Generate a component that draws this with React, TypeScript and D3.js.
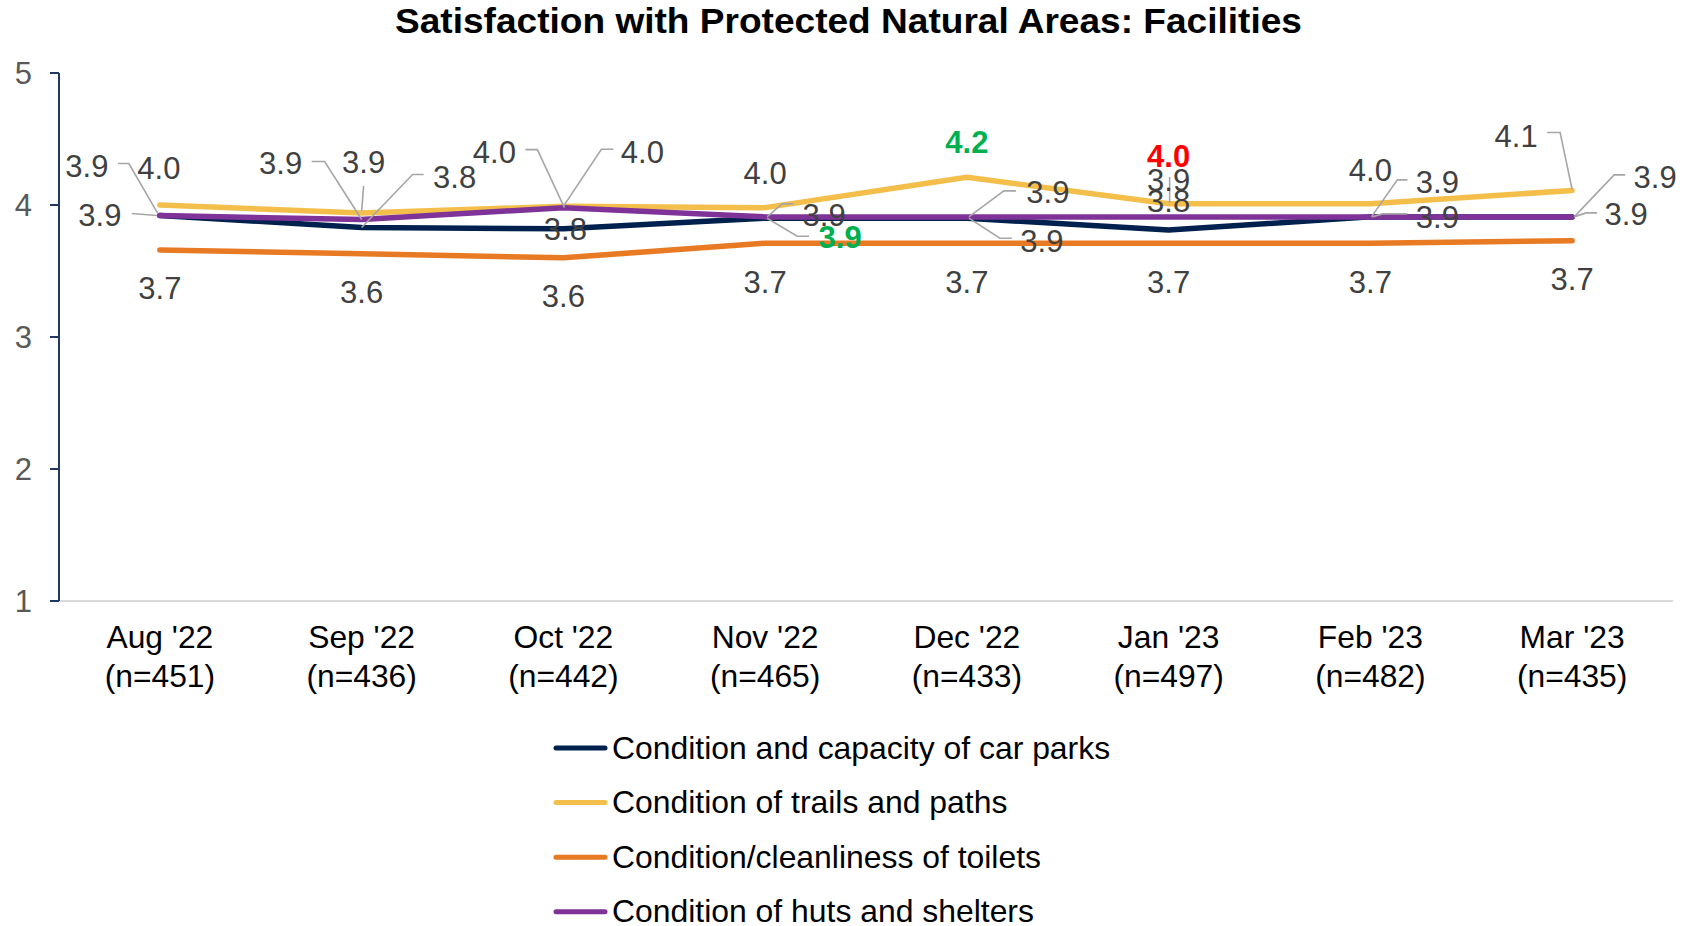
import React from "react";
import * as d3 from "d3";

// ---------- data ----------
const months = ["Aug '22", "Sep '22", "Oct '22", "Nov '22", "Dec '22", "Jan '23", "Feb '23", "Mar '23"];
const sampleSizes = ["(n=451)", "(n=436)", "(n=442)", "(n=465)", "(n=433)", "(n=497)", "(n=482)", "(n=435)"];
const carParks = [3.92, 3.83, 3.82, 3.90, 3.90, 3.81, 3.91, 3.91];
const trails = [4.00, 3.94, 3.99, 3.98, 4.21, 4.01, 4.01, 4.11];
const toilets = [3.66, 3.63, 3.60, 3.71, 3.71, 3.71, 3.71, 3.73];
const huts = [3.92, 3.89, 3.98, 3.91, 3.91, 3.91, 3.91, 3.91];
const yTicks = [1, 2, 3, 4, 5];
const seriesNames = [
  "Condition and capacity of car parks",
  "Condition of trails and paths",
  "Condition/cleanliness of toilets",
  "Condition of huts and shelters",
];
// significance highlighting: [seriesIndex, pointIndex, colour]
const highlights: [number, number, string][] = [
  [0, 3, "#00B050"],
  [1, 4, "#00B050"],
  [1, 5, "#FF0000"],
];

// ---------- styling / layout ----------
const W = 1682, H = 926;
const colors = ["#00204E", "#F3BF4A", "#E97A24", "#7F3398"];
const FONT = "'Liberation Sans', Arial, Helvetica, sans-serif";
const plot = { left: 59, right: 1673, top: 73, bottom: 601 };

type Lbl = { dx: number; dy: number; leader?: [number, number][] };
// label offsets relative to each data point (text centre), leader polylines relative to point
const labelLayout: Lbl[][] = [
  // car parks
  [
    { dx: -60, dy: -1, leader: [[-28, -2], [-3, 0]] },
    { dx: 93, dy: -51, leader: [[62, -53], [51, -53], [0, 0]] },
    { dx: 2, dy: 0 },
    { dx: 75, dy: 19, leader: [[44, 18], [32, 18], [2, 0]] },
    { dx: 75, dy: 23, leader: [[45, 20], [33, 20], [2, 0]] },
    { dx: 0, dy: -29 },
    { dx: 67, dy: 0, leader: [[37, -3], [12, -3], [2, 0]] },
    { dx: 54, dy: -3, leader: [[25, -4], [14, -4], [2, 0]] },
  ],
  // trails
  [
    { dx: -1, dy: -37 },
    { dx: 2, dy: -51, leader: [[2, -27], [0, -2]] },
    { dx: 79, dy: -54, leader: [[50, -57], [38, -57], [0, 0]] },
    { dx: 0, dy: -35 },
    { dx: 0, dy: -35 },
    { dx: 0, dy: -48 },
    { dx: 0, dy: -34 },
    { dx: -56, dy: -55, leader: [[-25, -58], [-12, -58], [0, -1]] },
  ],
  // toilets
  [
    { dx: 0, dy: 38 }, { dx: 0, dy: 38 }, { dx: 0, dy: 38 }, { dx: 0, dy: 39 },
    { dx: 0, dy: 39 }, { dx: 0, dy: 39 }, { dx: 0, dy: 39 }, { dx: 0, dy: 38 },
  ],
  // huts
  [
    { dx: -73, dy: -50, leader: [[-42, -52], [-31, -52], [-2, -2]] },
    { dx: -81, dy: -57, leader: [[-50, -58], [-37, -58], [0, 0]] },
    { dx: -69, dy: -56, leader: [[-38, -58], [-26, -58], [1, 0]] },
    { dx: 59, dy: -2, leader: [[28, -13], [17, -13], [2, 0]] },
    { dx: 81, dy: -25, leader: [[49, -26], [37, -26], [2, 0]] },
    { dx: 0, dy: -37, leader: [[1, -40], [1, -14]] },
    { dx: 67, dy: -35, leader: [[37, -37], [27, -37], [1, 0]] },
    { dx: 83, dy: -40, leader: [[53, -42], [42, -42], [3, -1]] },
  ],
];

export default function App() {
  const series = [carParks, trails, toilets, huts];
  const x = d3.scalePoint<string>().domain(months).range([plot.left, plot.right]).padding(0.5);
  const y = d3.scaleLinear().domain([1, 5]).range([plot.bottom, plot.top]);
  const line = d3
    .line<number>()
    .x((_, i) => x(months[i]) as number)
    .y((d) => y(d));

  const labelFs = 31;
  const legendY0 = 748;
  const legendStep = 54.6;

  return (
    <svg
      width={W}
      height={H}
      viewBox={`0 0 ${W} ${H}`}
      style={{ position: "absolute", left: 0, top: 0, background: "#fff" }}
      fontFamily={FONT}
    >
      <rect x={0} y={0} width={W} height={H} fill="#fff" />
      {/* title */}
      <text
        x={848.5}
        y={33.3}
        textAnchor="middle"
        fontSize={35}
        fontWeight="bold"
        fill="#000"
        textLength={907}
        lengthAdjust="spacingAndGlyphs"
      >
        Satisfaction with Protected Natural Areas: Facilities
      </text>

      {/* x axis baseline */}
      <line x1={plot.left} x2={plot.right} y1={y(1)} y2={y(1)} stroke="#D9D9D9" strokeWidth={2} />
      {/* y axis */}
      <line x1={plot.left} x2={plot.left} y1={y(5)} y2={y(1)} stroke="#1F3864" strokeWidth={2} />
      {yTicks.map((t) => (
        <g key={t}>
          <line x1={plot.left - 9} x2={plot.left} y1={y(t)} y2={y(t)} stroke="#1F3864" strokeWidth={2} />
          <text x={32} y={y(t) + 11} textAnchor="end" fontSize={31} fill="#595959">
            {t}
          </text>
        </g>
      ))}

      {/* x labels */}
      {months.map((m, i) => (
        <g key={m}>
          <text x={x(m) as number} y={648} textAnchor="middle" fontSize={31.8} fill="#000">
            {m}
          </text>
          <text x={x(m) as number} y={687} textAnchor="middle" fontSize={31.8} fill="#000">
            {sampleSizes[i]}
          </text>
        </g>
      ))}

      {/* lines */}
      {series.map((s, si) => (
        <path
          key={si}
          d={line(s) as string}
          fill="none"
          stroke={colors[si]}
          strokeWidth={5.5}
          strokeLinejoin="round"
          strokeLinecap="round"
        />
      ))}

      {/* leader lines */}
      {series.map((s, si) =>
        s.map((v, i) => {
          const lay = labelLayout[si][i];
          if (!lay.leader) return null;
          const px = x(months[i]) as number;
          const py = y(v);
          const pts = lay.leader.map(([a, b]) => `${px + a},${py + b}`).join(" ");
          return (
            <polyline key={`l${si}-${i}`} points={pts} fill="none" stroke="#A6A6A6" strokeWidth={1.6} />
          );
        })
      )}

      {/* data labels */}
      {series.map((s, si) =>
        s.map((v, i) => {
          const lay = labelLayout[si][i];
          const px = x(months[i]) as number;
          const py = y(v);
          const hl = highlights.find((h) => h[0] === si && h[1] === i);
          return (
            <text
              key={`t${si}-${i}`}
              x={px + lay.dx}
              y={py + lay.dy + labelFs * 0.358}
              textAnchor="middle"
              fontSize={labelFs}
              fontWeight={hl ? "bold" : "normal"}
              fill={hl ? hl[2] : "#404040"}
            >
              {v.toFixed(1)}
            </text>
          );
        })
      )}

      {/* legend */}
      {seriesNames.map((n, i) => {
        const ly = legendY0 + i * legendStep;
        return (
          <g key={n}>
            <line x1={556} x2={605} y1={ly} y2={ly} stroke={colors[i]} strokeWidth={5} strokeLinecap="round" />
            <text x={612} y={ly + 10.5} fontSize={31.9} fill="#000">
              {n}
            </text>
          </g>
        );
      })}
    </svg>
  );
}
